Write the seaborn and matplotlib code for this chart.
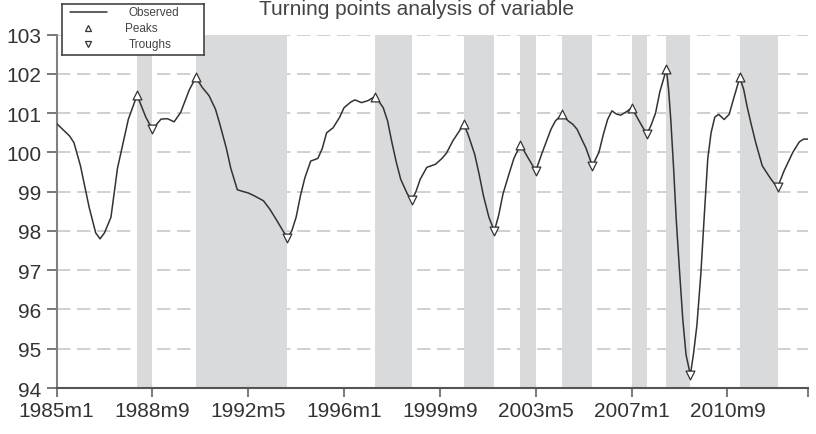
import matplotlib
matplotlib.use("Agg")
import matplotlib.pyplot as plt
import seaborn as sns
import pandas as pd

# months since 1985m1 and the observed series
months = [0, 3, 6, 8, 11, 15, 18, 20, 22, 25, 28, 30, 33, 37, 41, 44, 48, 51, 54, 57,
          61, 64, 67, 70, 73, 75, 78, 80, 83, 86, 88, 91, 95, 98, 101, 104, 106, 108,
          110, 112, 114, 116.7, 120, 122, 124, 127, 130, 132, 135, 137, 140, 143, 146,
          148, 150, 152, 154, 156, 158, 161, 163, 165, 167, 170, 174, 177, 179, 182,
          185, 187, 189, 192, 194, 196, 198.5, 201, 203, 205, 208, 210, 213, 216, 220,
          223, 227, 229, 232, 235, 237, 239, 241, 243, 246, 249, 251, 253, 255, 257,
          259, 262, 264, 266, 268, 271, 273, 275, 277, 280, 281, 282, 283.3, 284.5,
          286, 287.5, 289, 291, 292.5, 294, 295.8, 297.5, 299, 300.5, 302.2, 304,
          306.5, 308.8, 311, 313.7, 315.5, 317, 319, 321, 324, 328, 331, 334, 338,
          341, 343, 345]
values = [100.74, 100.58, 100.42, 100.25, 99.66, 98.6, 97.95, 97.8, 97.95, 98.35, 99.6,
          100.1, 100.85, 101.46, 100.9, 100.59, 100.85, 100.86, 100.78, 101.02, 101.6,
          101.91, 101.65, 101.45, 101.1, 100.72, 100.1, 99.6, 99.05, 99.0, 98.97, 98.89,
          98.77, 98.55, 98.28, 98.0, 97.83, 98.0, 98.35, 98.9, 99.35, 99.78, 99.85,
          100.1, 100.5, 100.63, 100.9, 101.14, 101.28, 101.34, 101.27, 101.32, 101.42,
          101.3, 101.14, 100.8, 100.25, 99.75, 99.32, 98.95, 98.78, 99.0, 99.32, 99.62,
          99.7, 99.85, 99.98, 100.3, 100.55, 100.72, 100.45, 99.95, 99.45, 98.9, 98.35,
          98.0, 98.4, 98.95, 99.5, 99.85, 100.2, 99.91, 99.53, 100.0, 100.59, 100.8,
          100.97, 100.8, 100.72, 100.59, 100.35, 100.12, 99.66, 100.0, 100.45, 100.84,
          101.06, 100.98, 100.95, 101.05, 101.14, 100.95, 100.75, 100.46, 100.7, 101.0,
          101.55, 102.12, 101.6, 100.84, 99.6, 98.3, 97.0, 95.76, 94.85, 94.33, 94.9,
          95.6, 96.9, 98.5, 99.85, 100.5, 100.9, 100.97, 100.84, 100.97, 101.4, 101.91,
          101.6, 101.18, 100.7, 100.25, 99.66, 99.32, 99.11, 99.53, 100.0, 100.27,
          100.34, 100.34]

peak_months = [37, 64, 146, 187, 213, 232, 264, 280, 313.7]
peak_values = [101.46, 101.91, 101.42, 100.72, 100.2, 100.97, 101.14, 102.12, 101.91]
trough_months = [44, 106, 163, 201, 220, 246, 271, 291, 331]
trough_values = [100.59, 97.83, 98.78, 98.0, 99.53, 99.66, 100.46, 94.33, 99.11]

tick_months = [0, 44, 88, 132, 176, 220, 264, 308, 345]
tick_labels = ["1985m1", "1988m9", "1992m5", "1996m1", "1999m9", "2003m5",
               "2007m1", "2010m9", ""]
y_ticks = [94, 95, 96, 97, 98, 99, 100, 101, 102, 103]

df = pd.DataFrame({"month": months, "value": values})

sns.set_style("white")
plt.rcParams["font.family"] = ["Liberation Sans", "DejaVu Sans"]

line_col = "#333333"
band_col = "#d9dadc"

fig = plt.figure(figsize=(8.16, 4.35), dpi=100)
ax = fig.add_axes([56.5 / 816, 1 - 389 / 435, (808 - 56.5) / 816, (389 - 35.7) / 435])

ax.set_xlim(0, 345)
ax.set_ylim(94, 103)
ax.set_axisbelow(True)
ax.grid(axis="y", color="#c8c8c8", linestyle=(0, (8, 4)), linewidth=1.2)

# shaded phases: from each peak to the following trough
for p, t in zip(peak_months, trough_months):
    ax.axvspan(p, t, color=band_col, lw=0, zorder=1)

sns.lineplot(data=df, x="month", y="value", ax=ax, color=line_col, linewidth=1.1, zorder=3)
sns.scatterplot(x=peak_months, y=peak_values, ax=ax, marker="^", s=40, color="white",
                edgecolor=line_col, linewidth=0.9, zorder=4)
sns.scatterplot(x=trough_months, y=trough_values, ax=ax, marker="v", s=40, color="white",
                edgecolor=line_col, linewidth=0.9, zorder=4)

ax.set_xticks(tick_months)
ax.set_xticklabels(tick_labels)
ax.set_yticks(y_ticks)
ax.set_xlabel("")
ax.set_ylabel("")
ax.tick_params(axis="x", bottom=True, direction="out", length=6.5, width=1.1,
               color="#555555", labelsize=15, labelcolor="#333333", pad=3)
ax.tick_params(axis="y", left=True, direction="out", length=7, width=1.1,
               color="#555555", labelsize=15, labelcolor="#333333", pad=4)
sns.despine(ax=ax)
ax.spines["left"].set_color("#808080")
ax.spines["left"].set_linewidth(1.5)
ax.spines["bottom"].set_color("#555555")
ax.spines["bottom"].set_linewidth(1.5)

fig.text(416.7 / 816, 1 - 15 / 435, "Turning points analysis of variable",
         ha="center", va="baseline", fontsize=15, color="#444444")

# legend box drawn as a small panel
leg = fig.add_axes([62 / 816, 1 - 56 / 435, 142 / 816, 51 / 435])
leg.set_xlim(0, 142)
leg.set_ylim(51, 0)
leg.set_xticks([])
leg.set_yticks([])
leg.set_facecolor("white")
for s in leg.spines.values():
    s.set_color("#444444")
    s.set_linewidth(1.2)
leg.plot([8, 45], [8, 8], color=line_col, linewidth=1.1)
leg.plot([26], [24], marker="^", markersize=5, markerfacecolor="white",
         markeredgecolor=line_col, markeredgewidth=0.9)
leg.plot([26], [40], marker="v", markersize=5, markerfacecolor="white",
         markeredgecolor=line_col, markeredgewidth=0.9)
leg.text(92, 8, "Observed", ha="center", va="center", fontsize=8.5, color="#444444")
leg.text(79, 24, "Peaks", ha="center", va="center", fontsize=8.5, color="#444444")
leg.text(88, 40, "Troughs", ha="center", va="center", fontsize=8.5, color="#444444")

fig.savefig("out.png", dpi=100)
